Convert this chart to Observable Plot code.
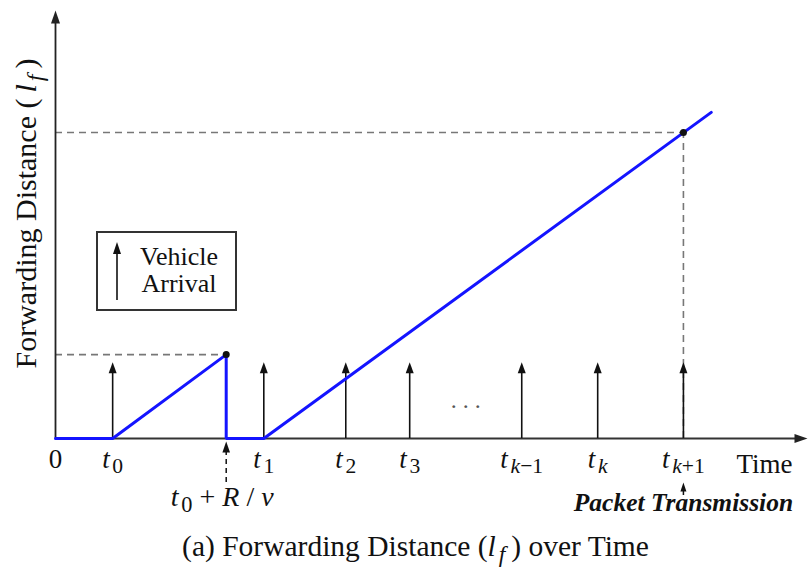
<!DOCTYPE html>
<html><head><meta charset="utf-8">
<script src="https://cdn.jsdelivr.net/npm/d3@7"></script>
<script src="https://cdn.jsdelivr.net/npm/@observablehq/plot@0.6"></script>
<style>
html,body{margin:0;padding:0;background:#fff;}
#wrap{position:relative;width:809px;height:567px;overflow:hidden;}
#legend{position:absolute;left:96px;top:231px;width:141px;height:80px;border:2px solid #333;box-sizing:border-box;background:#fff;}
#legend svg{position:absolute;left:0;top:0;}
</style></head><body><div id="wrap"></div>
<script>
// ---- data ----
const tickValues = [0, 7.6, 27.7, 38.6, 47.1, 62.0, 72.1, 83.5];
const tickLabels = ["0", "*t*_{0}", "*t*_{1}", "*t*_{2}", "*t*_{3}", "*t*_{*k*−1}", "*t*_{*k*}", "*t*_{*k*+1}"];
const arrivalTimes = [7.6, 27.7, 38.6, 47.1, 62.0, 72.1, 83.5];
const arrivalHeight = 17.8;
const forwardT = [0, 7.6, 22.7, 22.7, 27.7, 87.2];
const forwardL = [0, 0, 19.6, 0, 0, 76.2];
const markedT = [22.7, 83.5];
const markedL = [19.6, 71.5];
const expiryLabel = "*t*_{0} + *R* / *v*";
const packetLabel = "Packet Transmission";
const xLabel = "Time";
const yLabel = "Forwarding Distance (\u2009*l*_{*f*}\u2009)";
const caption = "(a) Forwarding Distance (*l*_{*f*}\u2009) over Time";
const legendLines = ["Vehicle", "Arrival"];

// ---- layout ----
const W = 809, H = 567, mL = 55, mR = 2, mT = 10, mB = 129;
const serif = "'Liberation Serif','Times New Roman',serif";
const pxY = px => -px * 100 / (H - mT - mB); // pixels below axis -> data units

const forward = forwardT.map((t, i) => ({t, l: forwardL[i]}));
const marked = markedT.map((t, i) => ({t, l: markedL[i]}));
const ticks = tickValues.map((t, i) => ({t, label: tickLabels[i]}));
const expiry = marked[0];
const packet = marked[1];

const plot = Plot.plot({
  width: W, height: H,
  marginLeft: mL, marginRight: mR, marginTop: mT, marginBottom: mB,
  x: {domain: [0, 100], axis: null},
  y: {domain: [0, 100], axis: null},
  style: {fontFamily: serif, fontSize: "27px", color: "#111", background: "white"},
  marks: [
    // dashed guides
    Plot.ruleY(marked, {y: "l", x1: 0, x2: "t", stroke: "#777", strokeWidth: 1.6, strokeDasharray: "7,5"}),
    Plot.ruleX([packet], {x: "t", y1: 0, y2: "l", stroke: "#777", strokeWidth: 1.6, strokeDasharray: "7,5"}),
    // axes
    Plot.ruleY([0], {x1: 0, x2: 98.8, stroke: "#333", strokeWidth: 1.8}),
    Plot.ruleX([0], {y1: 0, y2: 98, stroke: "#222", strokeWidth: 1.8}),
    Plot.vector([0], {x: 100, y: 0, rotate: 90, length: 13, r: 4.5, shape: "spike", anchor: "end", fill: "#222", stroke: "none"}),
    Plot.vector([0], {x: 0, y: 100, length: 13, r: 4.5, shape: "spike", anchor: "end", fill: "#222", stroke: "none"}),
    // vehicle arrivals
    Plot.ruleX(arrivalTimes, {x: d => d, y1: 0, y2: arrivalHeight - 1.5, stroke: "#111", strokeWidth: 1.6}),
    Plot.vector(arrivalTimes, {x: d => d, y: arrivalHeight, length: 11, r: 4, shape: "spike", anchor: "end", fill: "#111", stroke: "none"}),
    // forwarding distance
    Plot.line(forward, {x: "t", y: "l", stroke: "#1414ff", strokeWidth: 3, strokeLinejoin: "miter"}),
    Plot.dot(marked, {x: "t", y: "l", r: 3.5, fill: "#111", stroke: "none"}),
    // expiry dashed arrow below axis
    Plot.ruleX([expiry], {x: "t", y1: pxY(44), y2: pxY(12), stroke: "#111", strokeWidth: 1.5, strokeDasharray: "5,4"}),
    Plot.vector([expiry], {x: "t", y: pxY(3), length: 11, r: 3.8, shape: "spike", anchor: "end", fill: "#111", stroke: "none"}),
    // packet transmission arrow
    Plot.ruleX([packet], {x: "t", y1: pxY(57), y2: pxY(50), stroke: "#111", strokeWidth: 1.5}),
    Plot.vector([packet], {x: "t", y: pxY(44), length: 9, r: 3, shape: "spike", anchor: "end", fill: "#111", stroke: "none"}),
    // tick labels
    Plot.text(ticks, {x: "t", y: 0, text: "label", dy: 29, lineAnchor: "bottom", fontSize: 27}),
    Plot.text([expiryLabel], {x: expiry.t, y: 0, dx: -4, dy: 67, lineAnchor: "bottom", fontSize: 28}),
    Plot.text([packetLabel], {x: packet.t, y: 0, dy: 72, lineAnchor: "bottom", fontSize: 25.5, fontWeight: "bold", fontStyle: "italic"}),
    Plot.text([". . ."], {x: (arrivalTimes[3] + arrivalTimes[4]) / 2, y: 0, dy: -38, fontSize: 24, fill: "#555"}),
    Plot.text([xLabel], {frameAnchor: "bottom-right", textAnchor: "end", dx: -15, dy: 34, lineAnchor: "bottom", fontSize: 27}),
    Plot.text([yLabel], {frameAnchor: "left", textAnchor: "middle", rotate: -90, dx: -29, dy: -11, fontSize: 30}),
    Plot.text([caption], {frameAnchor: "bottom", textAnchor: "middle", dx: -16, dy: 117, lineAnchor: "bottom", fontSize: 29.5})
  ]
});

const wrap = document.getElementById("wrap");
wrap.appendChild(plot);

// rich text: *italic*, _{subscript}
function richify(el) {
  const src = el.textContent;
  if (!/[*_]/.test(src)) return;
  const fs = parseFloat(getComputedStyle(el).fontSize);
  const segs = [];
  let buf = "", italic = false, sub = false;
  const flush = () => { if (buf) segs.push({t: buf, italic, sub}); buf = ""; };
  for (let i = 0; i < src.length; i++) {
    const c = src[i];
    if (c === "*") { flush(); italic = !italic; }
    else if (c === "_" && src[i + 1] === "{") { flush(); sub = true; i++; }
    else if (c === "}" && sub) { flush(); sub = false; }
    else buf += c;
  }
  flush();
  el.textContent = "";
  let cur = 0, prevSub = false;
  for (const s of segs) {
    const ts = document.createElementNS("http://www.w3.org/2000/svg", "tspan");
    ts.textContent = s.t;
    const target = s.sub ? 0.22 * fs : 0;
    if (target !== cur) { ts.setAttribute("dy", (target - cur).toFixed(2)); cur = target; }
    if (s.sub && !prevSub) ts.setAttribute("dx", (0.1 * fs).toFixed(2));
    if (s.sub) ts.setAttribute("font-size", (0.8 * fs).toFixed(2));
    ts.setAttribute("font-style", s.italic ? "italic" : "normal");
    el.appendChild(ts);
    prevSub = s.sub;
  }
}
plot.querySelectorAll("text").forEach(richify);

// legend
const legend = document.createElement("div");
legend.id = "legend";
const ls = d3.create("svg").attr("width", 137).attr("height", 76)
  .style("font-family", serif).style("font-size", "26px");
ls.append("line").attr("x1", 19).attr("x2", 19).attr("y1", 67).attr("y2", 18)
  .attr("stroke", "#111").attr("stroke-width", 1.6);
ls.append("path").attr("d", "M15,21L19,9L23,21Z").attr("fill", "#111");
ls.selectAll("text").data(legendLines).join("text")
  .attr("x", 81).attr("y", (d, i) => 32 + i * 27).attr("text-anchor", "middle").attr("fill", "#111").text(d => d);
legend.appendChild(ls.node());
wrap.appendChild(legend);
</script></body></html>
